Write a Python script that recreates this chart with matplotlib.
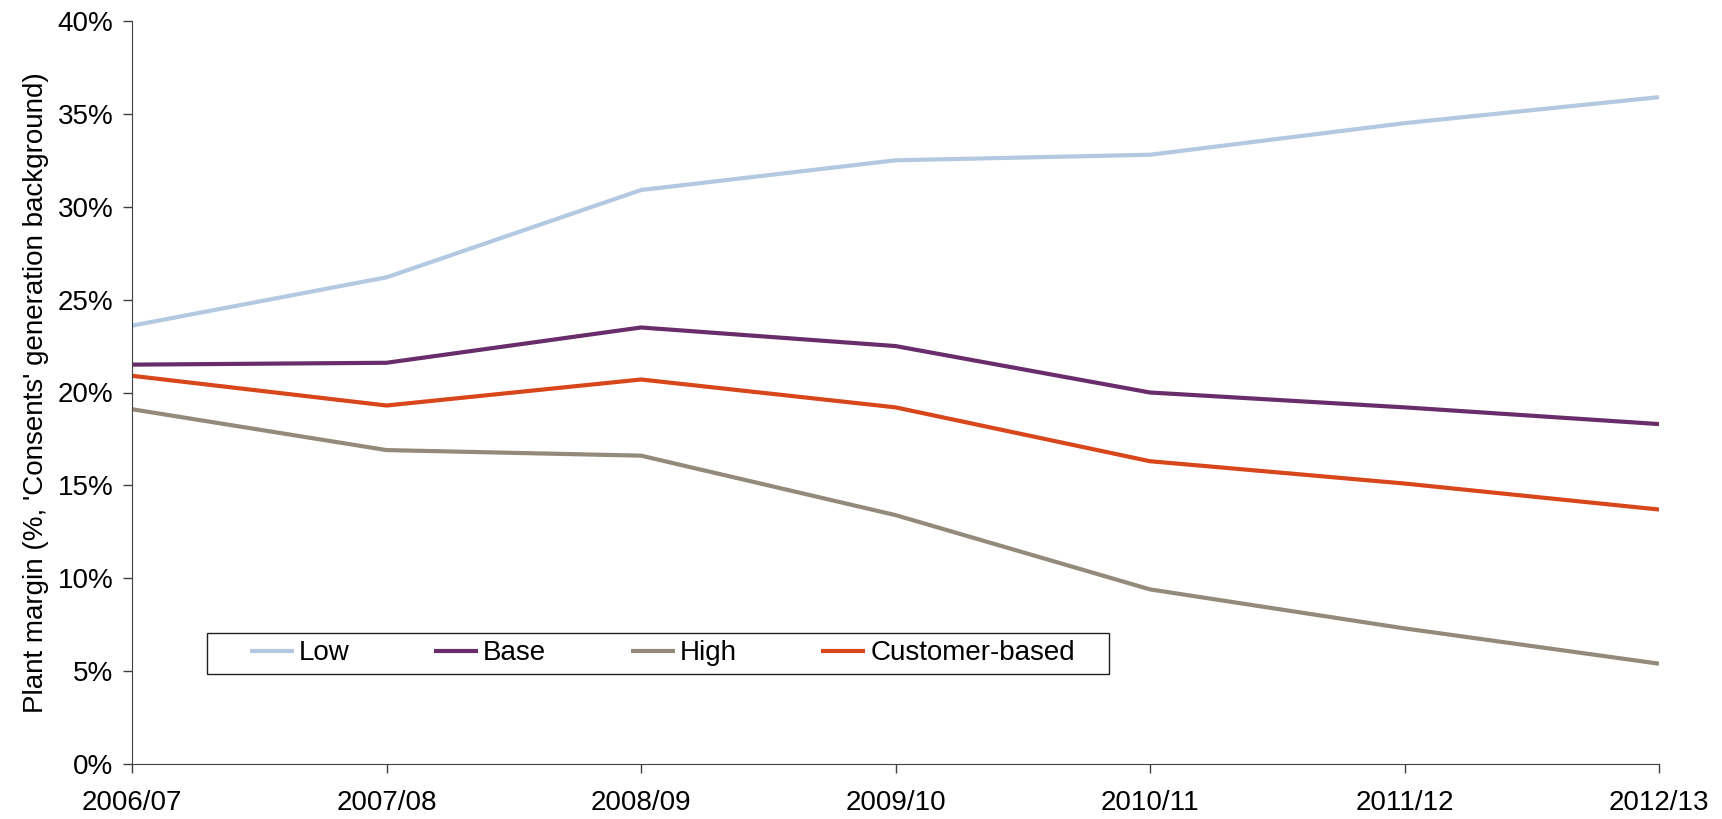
import matplotlib.pyplot as plt
from matplotlib.patches import Rectangle
from matplotlib.ticker import PercentFormatter

plt.rcParams['font.family'] = ['Liberation Sans', 'DejaVu Sans']

years = ["2006/07", "2007/08", "2008/09", "2009/10", "2010/11", "2011/12", "2012/13"]
low = [23.6, 26.2, 30.9, 32.5, 32.8, 34.5, 35.9]
base = [21.5, 21.6, 23.5, 22.5, 20.0, 19.2, 18.3]
high = [19.1, 16.9, 16.6, 13.4, 9.4, 7.3, 5.4]
customer = [20.9, 19.3, 20.7, 19.2, 16.3, 15.1, 13.7]

series = [
    ("Low", low, "#B3C9E1"),
    ("Base", base, "#6A2D6B"),
    ("High", high, "#948A79"),
    ("Customer-based", customer, "#D8461B"),
]

W, H = 1722, 819
fig = plt.figure(figsize=(W / 100, H / 100), dpi=100)
# plot area: x 132..1659 px, y 21..764 px
ax = fig.add_axes([132 / W, (H - 764) / H, (1659 - 132) / W, (764 - 21) / H])

x = range(len(years))
for name, vals, col in series:
    ax.plot(x, vals, color=col, lw=3, label=name, solid_capstyle='butt')

ax.set_xlim(0, len(years) - 1)
ax.set_ylim(0, 40)
ax.set_xticks(list(x))
ax.set_xticklabels(years)
ax.set_yticks(range(0, 41, 5))
ax.yaxis.set_major_formatter(PercentFormatter(decimals=0))
ax.tick_params(labelsize=20, length=6.5, width=1, color="#404040", pad=7)
ax.tick_params(axis='x', pad=12)

for s in ["top", "right"]:
    ax.spines[s].set_visible(False)
for s in ["left", "bottom"]:
    ax.spines[s].set_color("#404040")

ax.set_ylabel("Plant margin (%, 'Consents' generation background)", fontsize=20, labelpad=6)

# legend entries without frame, the box is drawn separately (wider side padding)
def to_ax(px, py):
    return (px - 132) / (1659 - 132), (764 - py) / (764 - 21)

bx0, by0 = to_ax(207, 674)
bx1, by1 = to_ax(1109, 633)
ax.add_patch(Rectangle((bx0, by0), bx1 - bx0, by1 - by0, transform=ax.transAxes,
                       fill=True, facecolor="white", edgecolor="#202020", lw=1, zorder=4))

lx, ly = to_ax(240, 653.5)
leg = ax.legend(loc="center left", bbox_to_anchor=(lx, ly),
                ncol=4, fontsize=20, frameon=False,
                handlelength=1.58, handletextpad=0.18, columnspacing=3.05,
                borderaxespad=0, borderpad=0.35)
leg.set_zorder(5)

fig.savefig("out.png", dpi=100)
